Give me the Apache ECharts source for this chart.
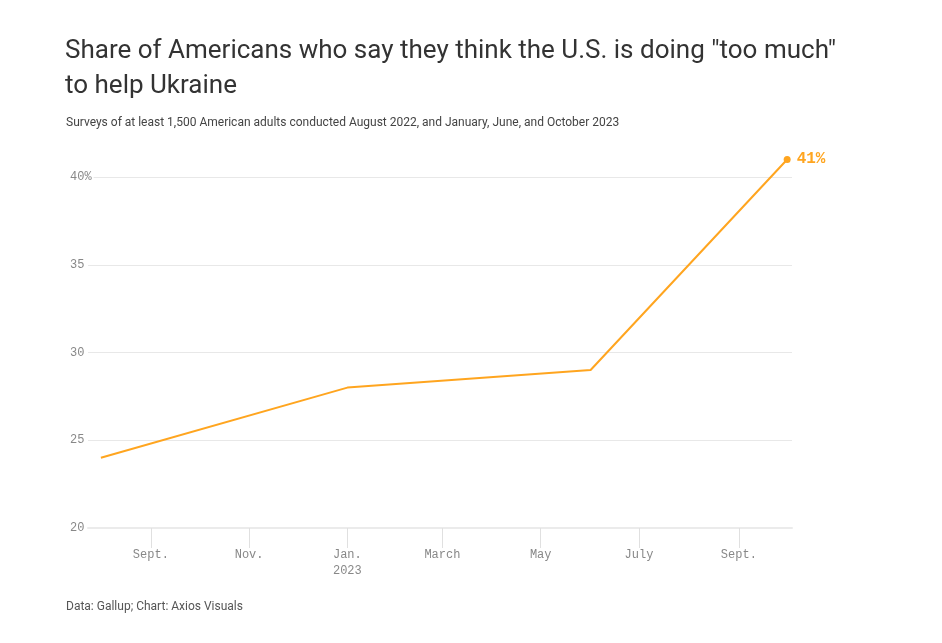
<!DOCTYPE html>
<html><head><meta charset="utf-8">
<script src="https://cdn.jsdelivr.net/npm/echarts@6/dist/echarts.min.js"></script>
<style>html,body{margin:0;padding:0;background:#fff}#c{width:942px;height:643px}</style>
</head><body><div id="c"></div>
<script>
const surveyDates = ['2022-08-01', '2023-01-01', '2023-06-01', '2023-10-01'];
const tooMuchShare = [24, 28, 29, 41];
const xTickDates = ['2022-09-01', '2022-11-01', '2023-01-01', '2023-03-01', '2023-05-01', '2023-07-01', '2023-09-01'];
const xTickLabels = ['Sept.', 'Nov.', 'Jan.\n2023', 'March', 'May', 'July', 'Sept.'];
const yTicks = [20, 25, 30, 35, 40];

const ts = d => new Date(d + 'T00:00:00Z').getTime();
const tickTs = xTickDates.map(ts);
const mono = '"Liberation Mono", "DejaVu Sans Mono", monospace';
const orange = '#ffa51f';

const chart = echarts.init(document.getElementById('c'), null, {renderer: 'canvas'});
chart.setOption({
  animation: false,
  backgroundColor: '#fff',
  title: [
    {text: 'Share of Americans who say they think the U.S. is doing "too much"\nto help Ukraine',
     left: 65, top: 34, padding: 0,
     textStyle: {fontFamily: 'Roboto, sans-serif', fontSize: 26, fontWeight: 'normal', color: '#333', lineHeight: 35}},
    {text: 'Surveys of at least 1,500 American adults conducted August 2022, and January, June, and October 2023',
     left: 66, top: 117, padding: 0,
     textStyle: {fontFamily: 'Roboto, sans-serif', fontSize: 12, fontWeight: 'normal', color: '#444'}},
    {text: 'Data: Gallup; Chart: Axios Visuals',
     left: 66, top: 601, padding: 0,
     textStyle: {fontFamily: 'Roboto, sans-serif', fontSize: 12, fontWeight: 'normal', color: '#555'}}
  ],
  grid: {left: 88, right: 150, top: 177, bottom: 115},
  xAxis: {
    type: 'value',
    min: ts('2022-07-24'),
    max: ts('2023-10-04'),
    axisLine: {show: true, lineStyle: {color: '#ebebeb', width: 2}},
    axisTick: {show: true, length: 20, lineStyle: {color: '#e0e0e0', width: 1}, customValues: tickTs},
    axisLabel: {
      customValues: tickTs,
      margin: 19,
      fontFamily: mono, fontSize: 12, color: '#888', lineHeight: 16,
      formatter: v => { const i = tickTs.indexOf(v); return i >= 0 ? xTickLabels[i] : ''; }
    },
    splitLine: {show: false}
  },
  yAxis: {
    type: 'value',
    min: yTicks[0], max: yTicks[yTicks.length - 1], interval: 5,
    axisLine: {show: false},
    axisTick: {show: false},
    axisLabel: {
      align: 'left', margin: 18,
      fontFamily: mono, fontSize: 12, color: '#888',
      backgroundColor: '#fff', padding: [2, 2, 0, 0],
      formatter: v => v === 40 ? '40%' : String(v)
    },
    splitLine: {show: true, lineStyle: {color: '#e8e8e8', width: 1}}
  },
  series: [{
    type: 'line',
    clip: false,
    data: surveyDates.map((d, i) => [ts(d), tooMuchShare[i]]),
    lineStyle: {color: orange, width: 2},
    itemStyle: {color: orange},
    symbol: 'circle',
    symbolSize: (v, p) => p.dataIndex === surveyDates.length - 1 ? 7 : 0,
    showSymbol: true,
    label: {
      show: true, position: 'right', distance: 6,
      fontFamily: mono, fontSize: 16, color: orange, fontWeight: 'bold',
      formatter: p => p.dataIndex === surveyDates.length - 1 ? p.value[1] + '%' : ''
    }
  }]
});
</script></body></html>
